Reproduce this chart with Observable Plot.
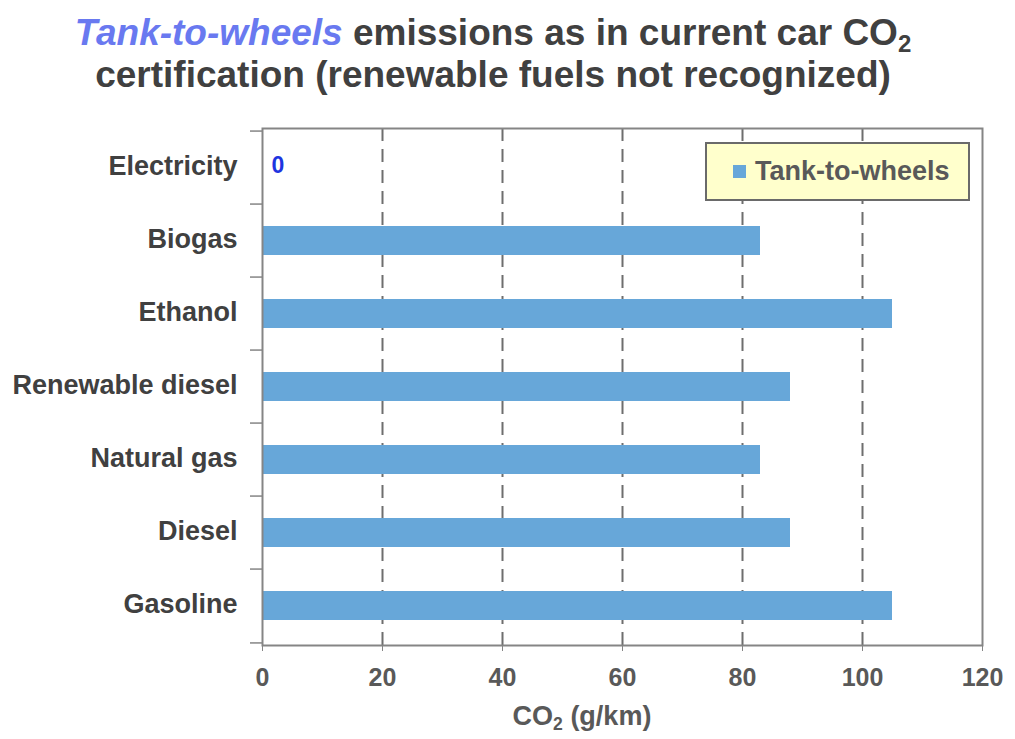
<!DOCTYPE html>
<html><head><meta charset="utf-8">
<script src="https://cdn.jsdelivr.net/npm/d3@7"></script>
<script src="https://cdn.jsdelivr.net/npm/@observablehq/plot@0.6"></script>
<style>
body{margin:0;background:#fff;font-family:"Liberation Sans",Arial,sans-serif;}
#wrap{position:relative;width:1015px;height:739px;overflow:hidden;background:#fff}
#title{box-sizing:border-box;height:105px;width:986px;padding-top:12px;text-align:center;font-weight:bold;font-size:37px;line-height:42px;color:#404040;}
#title .hl{color:#6979f0;font-style:italic}
#title sub{font-size:0.65em;vertical-align:-0.3em;line-height:0}
#chart svg{display:block}
#xlabel{position:relative;height:44px}
#xlabel span{position:absolute;left:582px;top:6px;transform:translateX(-50%);white-space:nowrap;font-weight:bold;font-size:27px;color:#595959}
#xlabel sub{font-size:0.65em;vertical-align:-0.3em;line-height:0}
#legend{position:absolute;left:705px;top:142px;width:265px;height:59px;box-sizing:border-box;border:2px solid #6a6a6a;background:#ffffcc;}
#legend .sw{position:absolute;left:26px;top:21px;width:13px;height:13px;background:#67a7d9}
#legend .tx{position:absolute;left:48px;top:12px;font-weight:bold;font-size:27px;line-height:30px;color:#595959;white-space:nowrap}
</style></head>
<body>
<div id="wrap">
  <div id="title"><span class="hl">Tank-to-wheels</span> emissions as in current car CO<sub>2</sub><br>certification (renewable fuels not recognized)</div>
  <div id="chart"></div>
  <div id="xlabel"><span>CO<sub>2</sub> (g/km)</span></div>
  <div id="legend"><div class="sw"></div><div class="tx">Tank-to-wheels</div></div>
</div>
<script>
const categories = ["Electricity","Biogas","Ethanol","Renewable diesel","Natural gas","Diesel","Gasoline"];
const values = [0, 83, 105, 88, 83, 88, 105];
const xTicks = [0, 20, 40, 60, 80, 100, 120];
const gridTicks = [20, 40, 60, 80, 100];
const seriesName = "Tank-to-wheels";

const data = categories.map((c, i) => ({fuel: c, co2: values[i]}));

const W = 1015, H = 590, mt = 23, mb = 50, ml = 262, mr = 33;
const step = (H - mt - mb) / categories.length;
const font = '"Liberation Sans", Arial, sans-serif';

const plot = Plot.plot({
  width: W, height: H,
  marginTop: mt, marginBottom: mb, marginLeft: ml, marginRight: mr,
  style: {fontFamily: font, fontWeight: "bold", background: "white", overflow: "visible"},
  x: {domain: [0, 120]},
  y: {domain: categories, paddingInner: 0.6, paddingOuter: 0.3},
  marks: [
    Plot.ruleX(gridTicks, {stroke: "#6e6e6e", strokeWidth: 2, strokeDasharray: "13,8"}),
    Plot.barX(data, {x: "co2", y: "fuel", fill: "#67a7d9"}),
    Plot.frame({stroke: "#858585", strokeWidth: 2}),
    Plot.ruleY(categories, {y: d => d, x1: -2, x2: 0, dy: -step / 2, stroke: "#858585", strokeWidth: 1.5}),
    Plot.ruleY(categories.slice(-1), {y: d => d, x1: -2, x2: 0, dy: step / 2, stroke: "#858585", strokeWidth: 1.5}),
    Plot.axisY({tickSize: 0, tickPadding: 25, dy: -2, fontSize: 27, fontWeight: "bold", fill: "#404040", label: null}),
    Plot.axisX({ticks: xTicks, tickSize: 6, tickPadding: 17, fontSize: 25, fontWeight: "bold", stroke: "#858585", fill: "#595959", label: null, tickFormat: d => String(d)}),
    Plot.text(data.filter(d => d.co2 === 0), {x: "co2", y: "fuel", text: d => String(d.co2), textAnchor: "start", dx: 9, dy: -2, fill: "#1e35e0", fontSize: 23, fontWeight: "bold"})
  ]
});
document.getElementById("chart").appendChild(plot);
</script>
</body></html>
